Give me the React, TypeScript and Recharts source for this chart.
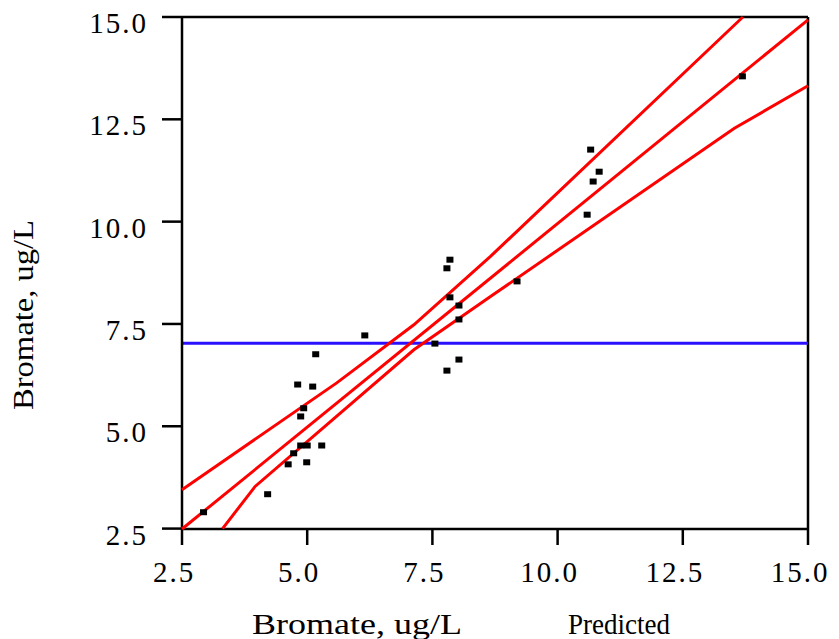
import React from 'react';
import { ScatterChart, Scatter, XAxis, YAxis, ReferenceLine } from 'recharts';

// observed bromate vs. model prediction (ug/L)
const predicted = [2.93, 4.21, 4.62, 4.99, 4.73, 4.87, 5.0, 5.29, 4.87, 4.93, 4.81, 5.11, 5.17, 6.15, 7.55, 7.79, 8.03, 8.03, 8.03, 7.85, 7.79, 7.85, 9.19, 10.59, 10.71, 10.83, 10.66, 13.69];
const actual = [2.9, 3.34, 4.07, 4.12, 4.34, 4.53, 4.53, 4.53, 5.24, 5.44, 6.02, 5.97, 6.76, 7.22, 7.02, 6.36, 6.63, 7.61, 7.95, 8.15, 8.86, 9.07, 8.54, 10.17, 10.98, 11.22, 11.76, 13.55];

// regression line and its confidence limits
const fitX = [2.5, 15.0];
const fitY = [2.49, 14.93];
const upperX = [2.5, 5.59, 7.13, 8.66, 13.7];
const upperY = [3.45, 6.06, 7.48, 9.15, 15.0];
const lowerX = [3.31, 3.96, 7.13, 8.66, 13.53, 15.0];
const lowerY = [2.5, 3.53, 6.87, 8.17, 12.28, 13.32];

const meanActual = 7.03;
const ticks = [2.5, 5.0, 7.5, 10.0, 12.5, 15.0];

const toPoints = (xs: number[], ys: number[]) => xs.map((x, i) => ({ x, y: ys[i] }));

const observed = toPoints(predicted, actual);
const fitLine = toPoints(fitX, fitY);
const upperLine = toPoints(upperX, upperY);
const lowerLine = toPoints(lowerX, lowerY);

const textStyle = { fontFamily: "'Liberation Serif', 'Times New Roman', 'DejaVu Serif', serif" };
const RED = '#ff0000';

const SquareDot = (props: any) => {
  const { cx, cy } = props;
  if (cx == null || cy == null) return <g />;
  return <rect x={cx - 3.5} y={cy - 3} width={7} height={6} fill="#000" />;
};

const NoDot = () => <g />;

const XTick = (props: any) => {
  const { x, y, payload } = props;
  return (
    <text x={x - 8} y={y + 35} textAnchor="middle" style={textStyle} fontSize={29} letterSpacing={2} fill="#000">
      {Number(payload.value).toFixed(1)}
    </text>
  );
};

const YTick = (props: any) => {
  const { x, y, payload } = props;
  return (
    <text x={x - 12} y={y + 16} textAnchor="end" style={textStyle} fontSize={29} letterSpacing={2} fill="#000">
      {Number(payload.value).toFixed(1)}
    </text>
  );
};

const XTitle = (props: any) => {
  const { x, y } = props.viewBox;
  return (
    <g style={textStyle} fill="#000">
      <text x={x + 70} y={y + 105} fontSize={29} textLength={210} lengthAdjust="spacingAndGlyphs">Bromate, ug/L</text>
      <text x={x + 386} y={y + 105} fontSize={30} textLength={102} lengthAdjust="spacingAndGlyphs">Predicted</text>
    </g>
  );
};

const YTitle = (props: any) => {
  const { x, y } = props.viewBox;
  return (
    <text
      transform={`translate(${x + 33},${y + 393}) rotate(-90)`}
      x={0}
      y={0}
      style={textStyle}
      fontSize={29}
      textLength={190}
      lengthAdjust="spacingAndGlyphs"
      fill="#000"
    >
      Bromate, ug/L
    </text>
  );
};

export default function App() {
  return (
    <div style={{ position: 'absolute', left: 0, top: 0, background: '#fff' }}>
      <ScatterChart width={839} height={639} margin={{ top: 17, right: 31, bottom: 0, left: 0 }}>
        <XAxis
          type="number"
          dataKey="x"
          domain={[2.5, 15]}
          ticks={ticks}
          height={110}
          tickSize={16}
          axisLine={{ stroke: '#000', strokeWidth: 2.5 }}
          tickLine={{ stroke: '#000', strokeWidth: 2.5 }}
          tick={<XTick />}
          label={{ content: <XTitle /> }}
        />
        <YAxis
          type="number"
          dataKey="y"
          domain={[2.5, 15]}
          ticks={ticks}
          width={182}
          tickSize={20}
          axisLine={{ stroke: '#000', strokeWidth: 2.5 }}
          tickLine={{ stroke: '#000', strokeWidth: 2.5 }}
          tick={<YTick />}
          label={{ content: <YTitle /> }}
        />
        <ReferenceLine y={15} stroke="#000" strokeWidth={2.5} />
        <ReferenceLine x={15} stroke="#000" strokeWidth={2.5} />
        <ReferenceLine y={meanActual} stroke="#2a10ff" strokeWidth={3} />
        <Scatter data={upperLine} line={{ stroke: RED, strokeWidth: 3 }} shape={<NoDot />} isAnimationActive={false} />
        <Scatter data={fitLine} line={{ stroke: RED, strokeWidth: 3 }} shape={<NoDot />} isAnimationActive={false} />
        <Scatter data={lowerLine} line={{ stroke: RED, strokeWidth: 3 }} shape={<NoDot />} isAnimationActive={false} />
        <Scatter data={observed} shape={<SquareDot />} isAnimationActive={false} />
      </ScatterChart>
    </div>
  );
}
